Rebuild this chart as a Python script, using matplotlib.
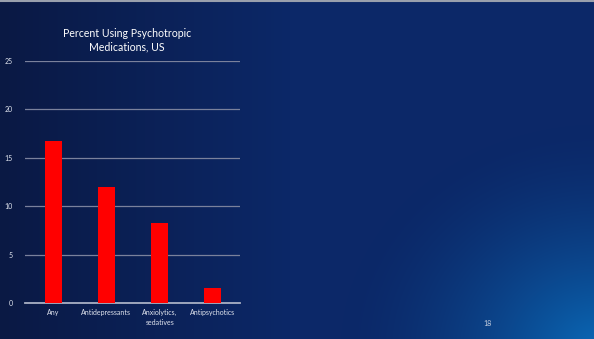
import numpy as np
import matplotlib
matplotlib.use("Agg")
import matplotlib.pyplot as plt
from matplotlib.colors import to_rgb

# Data
categories = ["Any", "Antidepressants", "Anxiolytics,\nsedatives", "Antipsychotics"]
percent = [16.7, 12.0, 8.3, 1.6]
y_ticks = [0, 5, 10, 15, 20, 25]

W, H = 594, 339
fig = plt.figure(figsize=(W / 100, H / 100), dpi=100)

# slide background: navy gradient, lighter blue glow bottom right
bg = fig.add_axes([0, 0, 1, 1])
bg.set_axis_off()
yy, xx = np.mgrid[0:H, 0:W]
left_c = np.array(to_rgb("#0a1944"))
mid_c = np.array(to_rgb("#0c2868"))
glow_c = np.array(to_rgb("#0a6ab8"))
h = np.clip(xx / 290.0, 0, 1)[..., None]
img = left_c * (1 - h) + mid_c * h
d = np.sqrt((xx - 600.0) ** 2 + ((yy - 350.0) * 1.15) ** 2)
w = (np.clip(1 - d / 260.0, 0, 1) ** 1.6)[..., None]
img = img * (1 - w) + glow_c * w
bg.imshow(img, aspect="auto", extent=[0, W, H, 0], interpolation="bilinear")
bg.plot([0, W], [1, 1], color="#9aa0ad", lw=1.5)
bg.set_xlim(0, W)
bg.set_ylim(H, 0)

# chart
ax = fig.add_axes([25 / W, 36 / H, 215 / W, 242 / H])
ax.patch.set_alpha(0)
x = np.arange(len(categories))
ax.bar(x, percent, width=0.32, color="#ff0000", zorder=3)
ax.set_ylim(0, 25)
ax.set_xlim(-0.53, 3.51)
ax.set_yticks(y_ticks)
ax.set_yticklabels([str(v) for v in y_ticks])
ax.set_xticks(x)
ax.set_xticklabels(categories, linespacing=1.6)
ax.grid(True, axis="y", color="#7a819c", lw=0.9, zorder=1)
for s in ["top", "right", "left"]:
    ax.spines[s].set_visible(False)
ax.spines["bottom"].set_color("#a9b0c4")
ax.spines["bottom"].set_linewidth(1.3)
ax.tick_params(axis="both", length=0, colors="#e0e4ee", labelsize=5)
ax.tick_params(axis="y", pad=9)
ax.tick_params(axis="x", pad=4)
for lbl in ax.get_xticklabels() + ax.get_yticklabels():
    lbl.set_family("Lato")

fig.text(127 / W, 1 - 40 / H, "Percent Using Psychotropic\nMedications, US",
         ha="center", va="center", color="white", fontsize=7.6,
         family="Lato", linespacing=1.25)
fig.text(488 / W, 1 - 324 / H, "18", ha="center", va="center",
         color="#c8d0e0", fontsize=5, family="Lato")

fig.savefig("out.png", dpi=100)
